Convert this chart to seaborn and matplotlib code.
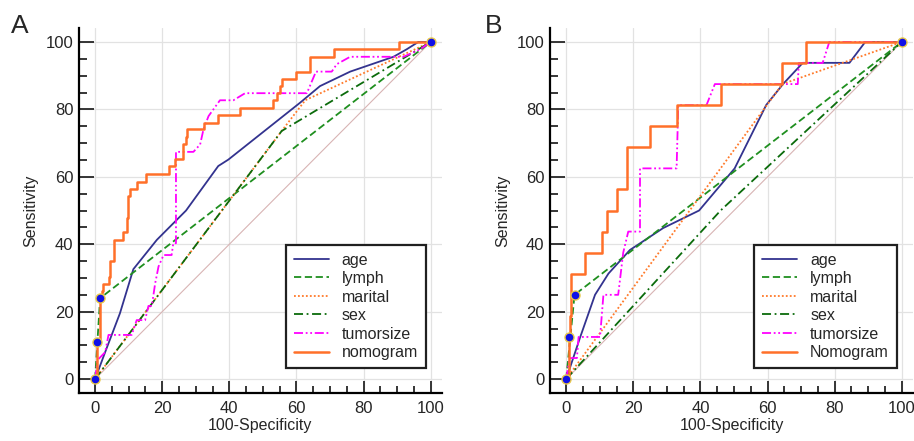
import numpy as np
import pandas as pd
import seaborn as sns
import matplotlib.pyplot as plt
from matplotlib.ticker import MultipleLocator

# ---- panel A ----
a_age_x = [0, 3, 7.4, 11.4, 18.4, 27.1, 36.7, 39.7, 61.1, 67, 76, 88.9, 92.8, 96.3, 100]
a_age_y = [0, 8, 19.5, 32.6, 41.3, 50, 63.2, 65.1, 82, 86.9, 91.2, 95.6, 97.8, 100, 100]
a_lymph_x = [0, 1.5, 100]
a_lymph_y = [0, 24, 100]
a_marital_x = [0, 55.6, 62.6, 100]
a_marital_y = [0, 73.6, 82.7, 100]
a_sex_x = [0, 55.6, 100]
a_sex_y = [0, 73.6, 100]
a_tumor_x = [0, 0.7, 3, 4, 10.9, 12.4, 14.9, 15.9, 16.9, 17.9, 18.9, 20.4, 22.8, 23.3, 24.1, 24.1,
             29.3, 31.3, 32.3, 33.8, 37.2, 41.2, 44.7, 63.1, 65.8, 70.5, 72, 76, 91.9, 96.8, 100]
a_tumor_y = [0, 5.6, 8, 13.1, 13.1, 17.5, 17.5, 21.7, 21.7, 28.4, 33.4, 36.8, 36.8, 40.3, 40.3, 67.4,
             67.4, 69.6, 74.1, 78, 82.7, 82.7, 84.8, 84.8, 91.2, 91.2, 93.4, 95.6, 95.6, 97.8, 100]
# nomogram: steps (fpr where tpr jumps, tpr after jump)
a_nomo_x = [0, 0.5, 1.5, 2.0, 2.5, 4.0, 4.5, 5.5, 8.4, 9.4, 9.9, 10.4, 12.6, 15.2, 22.1, 23.8, 26.1,
            27.1, 27.3, 32.3, 36.7, 43.2, 53.1, 54.3, 55.1, 55.8, 59.8, 64.1, 71.2, 90.4, 100]
a_nomo_y = [0, 11, 24, 26, 28.2, 30.4, 34.9, 41.3, 43.5, 47.7, 54.3, 56.4, 58.5, 60.8, 63.2, 65.3, 69.6,
            71.8, 74.1, 76.0, 78.2, 80.5, 82.7, 84.8, 86.9, 88.9, 91.2, 95.6, 97.8, 100, 100]
a_dots_x = [0, 0.5, 1.5, 100]
a_dots_y = [0, 11, 24, 100]

# ---- panel B ----
b_age_x = [0, 4.2, 8.6, 12.6, 19, 28.9, 39.6, 50.2, 59.6, 64.6, 70.5, 84.4, 89.1, 100]
b_age_y = [0, 12.5, 25, 31.3, 38.3, 44.8, 50, 62.5, 81.3, 87.5, 93.8, 93.8, 100, 100]
b_lymph_x = [0, 2.5, 100]
b_lymph_y = [0, 25, 100]
b_marital_x = [0, 64.4, 100]
b_marital_y = [0, 87.5, 100]
b_sex_x = [0, 46, 100]
b_sex_y = [0, 50, 100]
b_tumor_x = [0, 1, 3.2, 3.7, 10.1, 11.1, 15.5, 17, 18.5, 22, 22, 32.9, 33.4, 41.8, 44.3, 69, 69.3,
             76.4, 78.4, 100]
b_tumor_y = [0, 6.25, 6.25, 12.5, 12.5, 25, 25, 37.5, 43.75, 43.75, 62.5, 62.5, 81.25, 81.25, 87.5,
             87.5, 93.75, 93.75, 100, 100]
b_nomo_x = [0, 0.7, 1.2, 1.4, 5.6, 10.6, 12.1, 15.2, 18, 25.1, 32.9, 46.2, 64.4, 71.5, 100]
b_nomo_y = [0, 12.5, 18.75, 31.25, 37.5, 43.75, 50, 56.25, 68.75, 75, 81.25, 87.5, 93.75, 100, 100]
b_dots_x = [0, 0.7, 2.5, 100]
b_dots_y = [0, 12.5, 25, 100]

sns.set_style("white")
plt.rcParams['font.family'] = ['Liberation Sans', 'DejaVu Sans']

fig = plt.figure(figsize=(9.14, 4.41), dpi=100)
ax_a = fig.add_axes([0.0864, 0.109, 0.397, 0.828])
ax_b = fig.add_axes([0.6018, 0.109, 0.397, 0.828])


def draw_panel(ax, d, nomo_label):
    ax.plot([0, 100], [0, 100], color='#d8b4b4', lw=0.8, zorder=1)
    sns.lineplot(x=d['age'][0], y=d['age'][1], ax=ax, color='#33338f', lw=1.3,
                 sort=False, estimator=None, label='age')
    sns.lineplot(x=d['lymph'][0], y=d['lymph'][1], ax=ax, color='#1f8f1f', lw=1.3,
                 linestyle=(0, (4, 2)), sort=False, estimator=None, label='lymph')
    sns.lineplot(x=d['marital'][0], y=d['marital'][1], ax=ax, color='#ff7a2a', lw=1.3,
                 linestyle=(0, (1, 1.2)), sort=False, estimator=None, label='marital')
    sns.lineplot(x=d['sex'][0], y=d['sex'][1], ax=ax, color='#0b6b0b', lw=1.3,
                 linestyle=(0, (5, 2, 1, 2)), sort=False, estimator=None, label='sex')
    sns.lineplot(x=d['tumor'][0], y=d['tumor'][1], ax=ax, color='#ff00ff', lw=1.3,
                 linestyle=(0, (5, 1.5, 1, 1.5, 1, 1.5)), sort=False, estimator=None,
                 label='tumorsize')
    sns.lineplot(x=d['nomo'][0], y=d['nomo'][1], ax=ax, color='#ff7029', lw=1.8,
                 drawstyle='steps-post', sort=False, estimator=None, label=nomo_label)
    ax.plot(d['dots'][0], d['dots'][1], 'o', ms=6.5, mfc='#1010e8', mec='#e8c84a', mew=1.0,
            zorder=6, label='_nolegend_')

    ax.set_xlim(-4.8, 103.3)
    ax.set_ylim(-4.1, 104.2)
    ax.xaxis.set_major_locator(MultipleLocator(20))
    ax.xaxis.set_minor_locator(MultipleLocator(5))
    ax.yaxis.set_major_locator(MultipleLocator(20))
    ax.yaxis.set_minor_locator(MultipleLocator(5))
    ax.grid(True, which='major', color='#e2e2e2', lw=0.9)
    ax.set_axisbelow(True)
    for s in ['top', 'right']:
        ax.spines[s].set_visible(False)
    for s in ['left', 'bottom']:
        ax.spines[s].set_linewidth(1.6)
        ax.spines[s].set_color('black')
    ax.tick_params(axis='y', which='major', direction='in', length=11, width=1.3,
                   labelsize=12, pad=4, left=True)
    ax.tick_params(axis='y', which='minor', direction='in', length=5.5, width=1.3, left=True)
    ax.tick_params(axis='x', which='major', direction='in', length=9, width=1.3,
                   labelsize=12, pad=6, bottom=True)
    ax.tick_params(axis='x', which='minor', direction='in', length=5, width=1.3, bottom=True)
    ax.set_xlabel('100-Specificity', fontsize=11.5, labelpad=1)
    ax.set_ylabel('Sensitivity', fontsize=11.5, labelpad=5)
    leg = ax.legend(loc='lower right', bbox_to_anchor=(0.956, 0.068), borderaxespad=0,
                    fontsize=11.5, labelspacing=0.22, handlelength=2.2, fancybox=False,
                    framealpha=1, borderpad=0.5)
    leg.get_frame().set_edgecolor('#202020')
    leg.get_frame().set_linewidth(1.6)


draw_panel(ax_a, {'age': (a_age_x, a_age_y), 'lymph': (a_lymph_x, a_lymph_y),
                  'marital': (a_marital_x, a_marital_y), 'sex': (a_sex_x, a_sex_y),
                  'tumor': (a_tumor_x, a_tumor_y), 'nomo': (a_nomo_x, a_nomo_y),
                  'dots': (a_dots_x, a_dots_y)}, 'nomogram')
draw_panel(ax_b, {'age': (b_age_x, b_age_y), 'lymph': (b_lymph_x, b_lymph_y),
                  'marital': (b_marital_x, b_marital_y), 'sex': (b_sex_x, b_sex_y),
                  'tumor': (b_tumor_x, b_tumor_y), 'nomo': (b_nomo_x, b_nomo_y),
                  'dots': (b_dots_x, b_dots_y)}, 'Nomogram')

fig.text(0.012, 0.925, 'A', fontsize=19)
fig.text(0.530, 0.925, 'B', fontsize=19)

fig.savefig('out.png', dpi=100)
